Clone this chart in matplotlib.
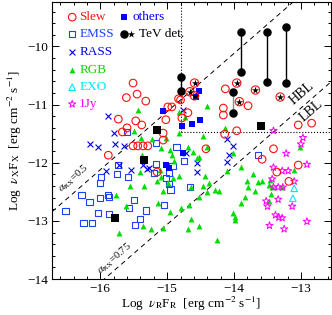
import numpy as np
import matplotlib
matplotlib.use("Agg")
import matplotlib.pyplot as plt
from matplotlib.ticker import MultipleLocator

plt.rcParams["font.family"] = ["Liberation Serif", "DejaVu Serif"]
plt.rcParams["mathtext.fontset"] = "stix"

# log nuR FR, log nuX FX
slew_x = [-15.51, -15.61, -15.45, -15.32, -15.73, -15.47, -15.60, -15.67, -15.38, -15.88,
          -15.51, -15.44, -15.36, -15.29, -15.06, -15.06, -14.13, -14.16, -14.16, -13.79,
          -13.96, -14.14, -14.42, -13.41, -13.04, -12.84, -14.99, -14.93, -14.83, -14.80,
          -14.78, -14.69, -15.02, -13.58, -13.04, -13.36, -13.18, -15.15]
slew_y = [-10.63, -10.88, -10.82, -10.94, -11.25, -11.28, -11.40, -11.47, -11.35, -11.87,
          -11.71, -11.71, -11.71, -11.71, -11.49, -11.61, -10.73, -11.06, -11.18, -11.02,
          -11.45, -11.51, -11.76, -11.76, -11.35, -11.32, -11.04, -11.04, -10.90, -10.92,
          -11.23, -11.14, -11.26, -11.94, -12.04, -12.16, -12.32, -12.16]

emss_x = [-16.52, -16.28, -16.16, -16.01, -15.99, -16.00, -15.88, -15.87, -15.87, -16.03,
          -16.25, -16.12, -15.75, -15.73, -15.58, -15.57, -15.49, -15.41, -15.48, -15.32,
          -15.20, -15.17, -15.05, -15.02, -15.60, -15.17, -14.75, -14.92, -14.97, -14.66,
          -14.97, -14.95, -14.86, -13.64]
emss_y = [-12.83, -12.56, -12.68, -12.35, -12.25, -12.61, -12.56, -12.59, -12.88, -12.87,
          -13.04, -13.04, -12.19, -12.04, -12.25, -12.78, -12.64, -12.97, -13.07, -12.82,
          -12.18, -12.02, -12.73, -12.26, -11.47, -11.66, -11.97, -12.06, -12.18, -12.42,
          -12.37, -12.46, -11.73, -11.87]

rass_x = [-15.88, -16.16, -16.03, -15.79, -15.78, -15.64, -15.91, -15.72, -15.54, -15.36,
          -15.30, -15.27, -14.77, -14.10, -14.02, -14.08, -14.72, -14.11, -14.56, -14.56]
rass_y = [-11.19, -11.68, -11.73, -11.49, -11.68, -11.71, -12.14, -12.04, -12.13, -12.04,
          -12.11, -12.09, -11.09, -11.59, -11.71, -11.87, -11.83, -11.99, -12.01, -12.16]

rgb_x = [-15.44, -15.49, -15.39, -15.23, -15.09, -15.38, -14.40, -14.83, -14.74, -14.83,
         -14.14, -14.47, -15.02, -14.69, -14.95, -14.93, -14.62, -14.40, -14.01, -14.53,
         -15.76, -15.61, -15.55, -15.41, -15.11, -15.09, -15.15, -15.35, -15.14, -15.36,
         -15.24, -15.72, -15.06, -15.06, -14.90, -14.56, -14.83, -14.92, -14.99, -14.65,
         -14.44, -14.47, -14.38, -14.53, -14.40, -14.29, -14.23, -14.96, -14.80, -14.68,
         -14.65, -14.69, -14.53, -14.26, -14.11, -13.89, -14.01, -13.98, -13.99, -13.89,
         -13.83, -13.80, -13.79, -13.71, -13.64, -13.58, -13.68, -13.47, -13.43, -13.44,
         -13.46, -13.47, -13.10, -13.28, -13.01]
rgb_y = [-11.09, -11.45, -11.57, -11.59, -11.75, -11.87, -11.02, -11.13, -11.21, -11.49,
         -11.40, -11.54, -11.57, -11.73, -11.78, -11.87, -11.82, -11.73, -11.83, -11.90,
         -12.56, -12.75, -12.40, -12.16, -12.13, -12.25, -12.32, -12.40, -12.69, -13.09,
         -13.14, -13.20, -13.13, -12.49, -11.97, -11.92, -12.23, -12.26, -12.35, -12.42,
         -12.23, -12.40, -12.35, -12.59, -12.51, -12.46, -12.49, -12.85, -12.77, -12.73,
         -12.97, -13.14, -13.08, -13.32, -12.14, -12.07, -12.87, -12.94, -12.99, -12.70,
         -12.59, -12.32, -12.42, -12.20, -12.33, -12.32, -12.49, -12.39, -12.42, -12.54,
         -12.30, -12.66, -12.13, -12.42, -11.73]

exo_x = [-13.10, -13.12]
exo_y = [-12.44, -12.61]

jy_x = [-13.41, -13.22, -12.91, -13.28, -13.19, -13.43, -13.10, -13.41, -13.34, -13.27,
        -13.52, -13.50, -13.34, -13.13, -13.38, -13.33, -13.28, -13.47, -13.25, -12.91,
        -13.41, -12.97, -13.00]
jy_y = [-12.08, -11.84, -12.03, -12.14, -12.14, -12.28, -12.32, -12.42, -12.42, -12.42,
        -12.66, -12.75, -12.63, -12.75, -12.90, -12.94, -12.95, -13.08, -13.14, -13.01,
        -11.45, -11.57, -11.68]

others_x = [-14.53, -14.57, -14.51, -14.63, -14.78, -14.77, -15.06, -15.02, -14.97]
others_y = [-10.76, -10.87, -11.26, -11.33, -11.37, -11.83, -11.11, -12.04, -12.09]
others_tev_x = [-15.15, -15.35, -13.59, -15.78]
others_tev_y = [-11.44, -11.95, -11.37, -12.95]

# TeV sources: two states joined by a line
tev_x = [-14.80, -13.89, -13.50, -13.22, -14.02]
tev_hi = [-10.52, -9.75, -9.75, -9.66, -10.78]
tev_lo = [-10.76, -10.44, -10.61, -10.63, -11.14]
tev_col = ["black", "black", "black", "black", "0.55"]

star_x = [-14.59, -14.66, -14.59, -13.96, -13.92, -13.68, -13.31]
star_y = [-10.63, -10.78, -10.85, -10.63, -10.95, -10.75, -10.87]

# alpha_rx lines: log(nuX FX) - log(nuR FR) = (1 - a) * log(nu_x / nu_r)
dlog_nu = 7.76
alphas = [0.5, 0.75]
x_cut = -14.8
y_cut = -11.47

fig = plt.figure(figsize=(3.32, 3.15), dpi=100)
ax = fig.add_axes([0.157, 0.114, 0.84, 0.879])

xl = (-16.72, -12.55)
yl = (-14.0, -9.24)
xx = np.array(xl)
for a in alphas:
    ax.plot(xx, xx + (1 - a) * dlog_nu, ls=(0, (5, 4)), color="black", lw=0.7, zorder=1)
ax.plot([x_cut, x_cut], [y_cut, yl[1]], ls=":", color="black", lw=0.8, zorder=1)
ax.plot([x_cut, xl[1]], [y_cut, y_cut], ls=":", color="black", lw=0.8, zorder=1)

ax.scatter(emss_x, emss_y, s=20, marker="s", facecolors="none", edgecolors="#2040ff", lw=0.8, zorder=3)
ax.scatter(rass_x, rass_y, s=18, marker="x", color="#0000ee", lw=0.8, zorder=3)
ax.scatter(rgb_x, rgb_y, s=18, marker="^", color="#00dd00", lw=0, zorder=3)
ax.scatter(exo_x, exo_y, s=22, marker="^", facecolors="none", edgecolors="#00e5ff", lw=0.8, zorder=3)
ax.scatter(jy_x, jy_y, s=30, marker="*", facecolors="none", edgecolors="#ff00ff", lw=0.7, zorder=3)
ax.scatter(slew_x, slew_y, s=30, marker="o", facecolors="none", edgecolors="#ff1010", lw=0.8, zorder=4)
ax.scatter(others_x, others_y, s=20, marker="s", color="#0000ff", lw=0, zorder=4)
ax.scatter(others_tev_x, others_tev_y, s=26, marker="s", color="black", lw=0, zorder=4)

for x, hi, lo, c in zip(tev_x, tev_hi, tev_lo, tev_col):
    ax.plot([x, x], [lo, hi], color=c, lw=1.0, zorder=4)
ax.scatter(tev_x, tev_hi, s=26, color="black", zorder=5)
ax.scatter(tev_x, tev_lo, s=26, color="black", zorder=5)
ax.scatter(star_x, star_y, s=36, marker="o", facecolors="none", edgecolors="#ff1010", lw=0.8, zorder=5)
ax.scatter(star_x, star_y, s=30, marker="*", color="black", lw=0, zorder=6)

# line labels
ax.text(-16.39, -12.27, r"$\alpha_{\rm RX}$=0.5", rotation=41, fontsize=7.5,
        ha="center", va="center")
ax.text(-15.79, -13.64, r"$\alpha_{\rm RX}$=0.75", rotation=41, fontsize=7.5,
        ha="center", va="center")
ax.text(-12.98, -10.80, "HBL", rotation=41, fontsize=10, ha="center", va="center")
ax.text(-12.85, -11.10, "LBL", rotation=41, fontsize=10, ha="center", va="center")

# legend
tr = ax.transAxes
rows = [0.946, 0.884, 0.819, 0.755, 0.693, 0.632]
ax.scatter([0.072], [rows[0]], s=30, marker="o", facecolors="none", edgecolors="#ff1010", lw=0.8, transform=tr)
ax.scatter([0.072], [rows[1]], s=20, marker="s", facecolors="none", edgecolors="#2040ff", lw=0.8, transform=tr)
ax.scatter([0.072], [rows[2]], s=18, marker="x", color="#0000ee", lw=0.8, transform=tr)
ax.scatter([0.072], [rows[3]], s=18, marker="^", color="#00dd00", lw=0, transform=tr)
ax.scatter([0.072], [rows[4]], s=22, marker="^", facecolors="none", edgecolors="#00e5ff", lw=0.8, transform=tr)
ax.scatter([0.072], [rows[5]], s=30, marker="*", facecolors="none", edgecolors="#ff00ff", lw=0.7, transform=tr)
ax.scatter([0.258], [rows[0]], s=20, marker="s", color="#0000ff", lw=0, transform=tr)
ax.scatter([0.258], [rows[1]], s=26, color="black", transform=tr)
ax.scatter([0.283], [rows[1]], s=30, marker="*", color="black", lw=0, transform=tr)
labels = ["Slew", "EMSS", "RASS", "RGB", "EXO", "1Jy"]
colors = ["#ff1010", "#2040ff", "#0000ee", "#00dd00", "#00e5ff", "#ff00ff"]
for lab, c, yy in zip(labels, colors, rows):
    ax.text(0.097, yy, lab, color=c, fontsize=9.5, va="center", transform=tr)
ax.text(0.29, rows[0], "others", color="#0000ff", fontsize=9.5, va="center", transform=tr)
ax.text(0.312, rows[1], "TeV det.", color="black", fontsize=9.5, va="center", transform=tr)

ax.set_xlim(*xl)
ax.set_ylim(*yl)
ax.xaxis.set_major_locator(MultipleLocator(1))
ax.xaxis.set_minor_locator(MultipleLocator(0.2))
ax.yaxis.set_major_locator(MultipleLocator(1))
ax.yaxis.set_minor_locator(MultipleLocator(0.2))
ax.tick_params(which="both", direction="in", top=True, right=True, labelsize=9.5, width=0.7)
ax.tick_params(which="major", length=5, pad=3)
ax.tick_params(which="minor", length=2.5)
for sp in ax.spines.values():
    sp.set_linewidth(0.8)
ax.set_xlabel(r"Log  $\nu_{\rm R}$F$_{\rm R}$  [erg cm$^{-2}$ s$^{-1}$]", fontsize=9.5, labelpad=0)
ax.set_ylabel(r"Log  $\nu_{\rm X}$F$_{\rm X}$  [erg cm$^{-2}$ s$^{-1}$]", fontsize=9.5, labelpad=2)

fig.savefig("out.png", dpi=100)
